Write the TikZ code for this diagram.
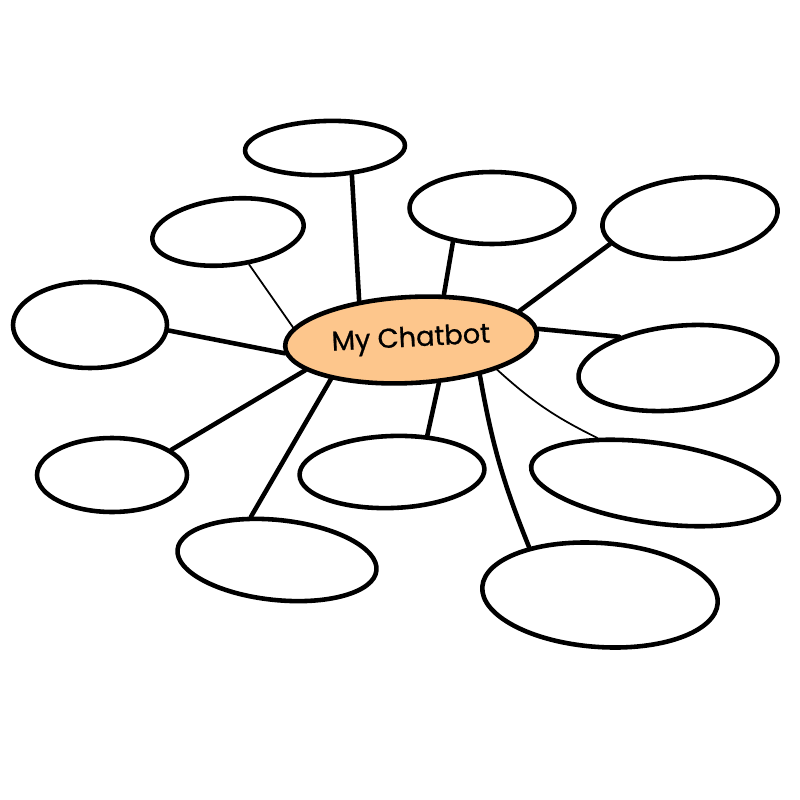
\documentclass[tikz,border=0pt]{standalone}
\usepackage{fontspec}
\setmainfont{Poppins}
\usetikzlibrary{shapes.geometric}
\definecolor{hubfill}{HTML}{FDC68C}
\tikzset{
  bubble/.style = {ellipse, draw=black, line width=2.6pt, fill=white, inner sep=0pt},
  hub/.style    = {bubble, fill=hubfill, font=\fontsize{15.5}{19}\selectfont\addfontfeature{FakeBold=0.8}},
  link/.style   = {line width=2.6pt, line cap=round},
  thinlink/.style = {line width=1pt, line cap=round},
}
\begin{document}
\begin{tikzpicture}[x=0.02cm, y=-0.02cm]
    \useasboundingbox (0,0) rectangle (800,800);
    % centre
    \node[hub, minimum width=5.04cm, minimum height=1.72cm, rotate=3] (bot) at (411,340) {My Chatbot\hspace{1.6em}};
    % outer bubbles
    \node[bubble, minimum width=3.2cm,  minimum height=1.08cm, rotate=2]  (top)    at (325,148) {};
    \node[bubble, minimum width=3.04cm, minimum height=1.32cm, rotate=6]  (upleft) at (228,232) {};
    \node[bubble, minimum width=3.3cm,  minimum height=1.44cm]            (upmid)  at (492,208) {};
    \node[bubble, minimum width=3.52cm, minimum height=1.6cm,  rotate=6]  (upright) at (690,218) {};
    \node[bubble, minimum width=3.08cm, minimum height=1.72cm]            (left)   at (90,325) {};
    \node[bubble, minimum width=4.0cm,  minimum height=1.68cm, rotate=6]  (right)  at (678,368) {};
    \node[bubble, minimum width=3.0cm,  minimum height=1.48cm]            (lowleft) at (112,475) {};
    \node[bubble, minimum width=3.7cm,  minimum height=1.44cm, rotate=2]  (lowmid) at (392,472) {};
    \node[bubble, minimum width=5.0cm,  minimum height=1.6cm,  rotate=-8] (lowright) at (655,483) {};
    \node[bubble, minimum width=4.0cm,  minimum height=1.6cm,  rotate=-6] (botleft) at (277,560) {};
    \node[bubble, minimum width=4.72cm, minimum height=2.08cm, rotate=-4] (botright) at (600,595) {};
    % spokes
    \draw[link] (top.-47) -- (bot.140);
    \draw[thinlink] (upleft.-63) -- (bot.171);
    \draw[link] (upmid.-139) -- (bot.51);
    \draw[link] (upright.-168) -- (bot.12);
    \draw[link] (left.-4) -- (bot.183);
    \draw[link] (bot.2) -- (right.146);
    \draw[link] (lowleft.23) -- (bot.193);
    \draw[link] (lowmid.44) -- (bot.-60);
    \draw[thinlink] (bot.-22) to[bend right=8] (lowright.150);
    \draw[link] (botleft.127) -- (bot.203);
    \draw[link] (botright.150) to[bend left=6] (bot.-30);
\end{tikzpicture}
\end{document}
